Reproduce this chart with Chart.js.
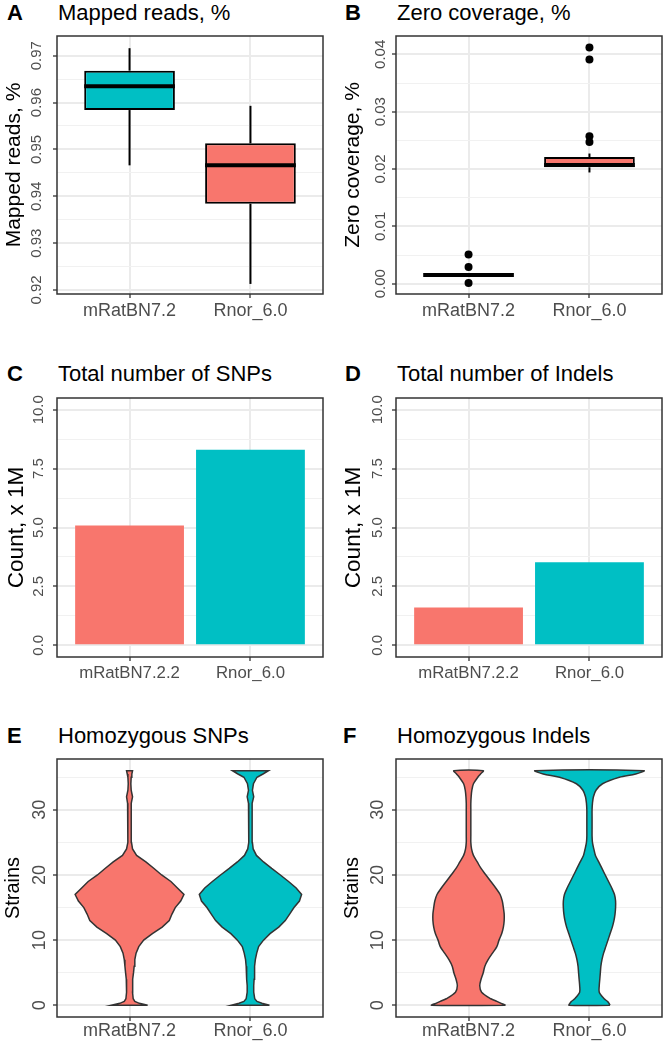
<!DOCTYPE html>
<html>
<head>
<meta charset="utf-8">
<script src="https://cdn.jsdelivr.net/npm/chart.js@4/dist/chart.umd.min.js"></script>
<style>
  body { margin: 0; background: #fff; width: 667px; height: 1050px; position: relative; overflow: hidden;
         font-family: 'Liberation Sans', Arial, sans-serif; }
  canvas { position: absolute; }
  .tag { position: absolute; font-size: 22px; line-height: 22px; font-weight: bold; color: #000; }
  .ttl { position: absolute; font-size: 22px; line-height: 22px; color: #000; white-space: nowrap; }
</style>
</head>
<body>
<div class="tag" style="left:7px;top:2px">A</div>
<div class="ttl" style="left:58px;top:2px">Mapped reads, %</div>
<div class="tag" style="left:345px;top:2px">B</div>
<div class="ttl" style="left:397px;top:2px">Zero coverage, %</div>
<div class="tag" style="left:7px;top:363px">C</div>
<div class="ttl" style="left:58px;top:363px">Total number of SNPs</div>
<div class="tag" style="left:345px;top:363px">D</div>
<div class="ttl" style="left:397px;top:363px">Total number of Indels</div>
<div class="tag" style="left:7px;top:725px">E</div>
<div class="ttl" style="left:58px;top:725px">Homozygous SNPs</div>
<div class="tag" style="left:343px;top:725px">F</div>
<div class="ttl" style="left:397px;top:725px">Homozygous Indels</div>

<canvas id="cA" width="333" height="300" style="left:0;top:30px"></canvas>
<canvas id="cB" width="334" height="300" style="left:333px;top:30px"></canvas>
<canvas id="cC" width="333" height="301" style="left:0;top:392px"></canvas>
<canvas id="cD" width="334" height="301" style="left:333px;top:392px"></canvas>
<canvas id="cE" width="333" height="297" style="left:0;top:753px"></canvas>
<canvas id="cF" width="334" height="297" style="left:333px;top:753px"></canvas>

<script>
// groups
const boxGroups = ['mRatBN7.2', 'Rnor_6.0'];
const barGroups = ['mRatBN7.2.2', 'Rnor_6.0'];

// A: mapped reads, [lower whisker, Q1, median, Q3, upper whisker]
const mappedMRat = [0.9466, 0.9584, 0.9635, 0.9668, 0.9716];
const mappedRnor = [0.9213, 0.9384, 0.9466, 0.9513, 0.9593];

// B: zero coverage, same layout + outliers
const zeroMRat = [0.0015, 0.0015, 0.0015, 0.0015, 0.0015];
const zeroRnor = [0.0194, 0.0203, 0.0207, 0.0221, 0.0227];
const zeroOutMRat = [0.0051, 0.0029, 0.0001];
const zeroOutRnor = [0.0412, 0.0391, 0.0257, 0.0247];

// C, D: totals, millions
const snpTotals = [5.09, 8.30];
const indelTotals = [1.60, 3.52];

// E, F: violin densities (relative width) at each strain count
const strainLevels = [0, 0.3, 0.6, 1, 2, 3, 4, 5, 6, 7, 8, 9, 10, 11, 12, 13, 14, 15, 16, 17, 18, 19,
  20, 21, 22, 23, 24, 25, 26, 27, 28, 29, 30, 31, 32, 33, 34, 35, 35.5, 36];
const homSnpMRat = [.333, .18, .097, .067, .055, .055, .06, .073, .085, .097, .12, .17, .26, .42, .6, .73,
  .78, .84, .94, 1.0, .88, .76, .59, .45, .3, .13, .055, .036, .03, .03, .03, .03, .03, .036, .055, .03,
  .024, .03, .042, .055];
const homSnpRnor = [.35, .21, .12, .079, .06, .06, .067, .073, .079, .09, .115, .15, .24, .36, .52, .64,
  .72, .8, .9, .94, .84, .7, .55, .39, .24, .11, .05, .036, .03, .03, .03, .03, .03, .036, .06, .036,
  .055, .12, .23, .33];
const homIndelMRat = [.68, .6, .52, .41, .24, .206, .23, .27, .3, .36, .44, .52, .56, .61, .64, .655,
  .655, .64, .62, .58, .5, .41, .32, .23, .16, .09, .055, .042, .042, .042, .042, .042, .042, .042, .048,
  .06, .09, .17, .22, .27];
const homIndelRnor = [.376, .36, .33, .27, .18, .18, .19, .2, .21, .23, .26, .3, .34, .38, .42, .45,
  .47, .48, .48, .46, .41, .35, .29, .23, .17, .11, .08, .055, .048, .048, .048, .048, .048, .055, .073,
  .12, .24, .55, .85, 1.0];

// tick values and labels
const mappedTicks = [0.92, 0.93, 0.94, 0.95, 0.96, 0.97];
const mappedLabels = ['0.92', '0.93', '0.94', '0.95', '0.96', '0.97'];
const mappedMinor = [0.925, 0.935, 0.945, 0.955, 0.965];
const zeroTicks = [0, 0.01, 0.02, 0.03, 0.04];
const zeroLabels = ['0.00', '0.01', '0.02', '0.03', '0.04'];
const zeroMinor = [0.005, 0.015, 0.025, 0.035];
const countTicks = [0, 2.5, 5, 7.5, 10];
const countLabels = ['0.0', '2.5', '5.0', '7.5', '10.0'];
const countMinor = [1.25, 3.75, 6.25, 8.75];
const strainTicks = [0, 10, 20, 30];
const strainLabels = ['0', '10', '20', '30'];
const strainMinor = [5, 15, 25, 35];

const INK = '#000000';
const SALMON = '#F8766D';
const TEAL = '#00BFC4';
const HALF_BOX = 0.375;
const HALF_VIOLIN = 0.45;

Chart.defaults.font.family = "'Liberation Sans', Arial, sans-serif";
Chart.defaults.animation = false;
Chart.defaults.plugins.legend.display = false;
Chart.defaults.plugins.tooltip.enabled = false;

// panel border drawn over the data, like theme_bw
const frame = {
  id: 'frame',
  afterDatasetsDraw(chart) {
    const { ctx, chartArea: a } = chart;
    ctx.save();
    ctx.strokeStyle = '#333333';
    ctx.lineWidth = 1.5;
    ctx.strokeRect(a.left, a.top, a.right - a.left, a.bottom - a.top);
    ctx.restore();
  }
};

const near = (list, v) => list.findIndex(m => Math.abs(m - v) < 1e-9);

function yAxis(c) {
  const major = ctx => ctx.tick && near(c.majors, ctx.tick.value) >= 0;
  return {
    type: 'linear', min: c.min, max: c.max, beginAtZero: false,
    afterBuildTicks: s => { s.ticks = c.majors.concat(c.minors).sort((p, q) => p - q).map(v => ({ value: v })); },
    afterFit: s => { s.width = c.width; s.paddingTop = 0; s.paddingBottom = 0; s.paddingLeft = 0; s.paddingRight = 0; },
    border: { display: false },
    grid: {
      color: ctx => major(ctx) ? '#EBEBEB' : '#F1F1F1',
      lineWidth: ctx => major(ctx) ? 2 : 1,
      tickColor: ctx => major(ctx) ? '#333333' : 'rgba(0,0,0,0)',
      tickLength: 4, tickWidth: 1.3
    },
    ticks: {
      autoSkip: false, minRotation: 90, maxRotation: 90, crossAlign: 'center', padding: c.tickPad,
      color: '#4D4D4D', font: { size: c.tickSize },
      callback: v => { const i = near(c.majors, v); return i >= 0 ? c.labels[i] : ''; }
    },
    title: { display: true, text: c.title, color: '#000', font: { size: c.titleSize }, padding: { top: c.titlePad, bottom: 0 } }
  };
}

function xAxis(names, size, pad, height) {
  return {
    type: 'linear', min: 0.4, max: 2.6, offset: false,
    afterBuildTicks: s => { s.ticks = names.map((n, i) => ({ value: i + 1 })); },
    afterFit: s => { s.height = height; s.paddingLeft = 0; s.paddingRight = 0; s.paddingTop = 0; s.paddingBottom = 0; },
    border: { display: false },
    grid: { offset: false, color: '#EBEBEB', lineWidth: 2, tickColor: '#333333', tickLength: 4, tickWidth: 1.3 },
    ticks: { autoSkip: false, maxRotation: 0, minRotation: 0, padding: pad, color: '#4D4D4D', font: { size: size },
      callback: v => names[Math.round(v) - 1] }
  };
}

function lineSet(points, width, order) {
  return { type: 'line', data: points, borderColor: INK, borderWidth: width, pointRadius: 0,
           fill: false, tension: 0, order: order };
}

function boxSets(stats, colors, outliers) {
  const sets = [{
    type: 'bar', order: 3,
    data: stats.map((s, i) => ({ x: i + 1, y: [s[1], s[3]] })),
    backgroundColor: colors, borderColor: INK, borderWidth: 2, borderSkipped: false,
    categoryPercentage: 0.75, barPercentage: 1
  }];
  stats.forEach((s, i) => {
    const c = i + 1;
    sets.push(lineSet([{ x: c, y: s[0] }, { x: c, y: s[1] }], 2, 2));
    sets.push(lineSet([{ x: c, y: s[3] }, { x: c, y: s[4] }], 2, 2));
    sets.push(lineSet([{ x: c - HALF_BOX, y: s[2] }, { x: c + HALF_BOX, y: s[2] }], 4, 1));
  });
  if (outliers) {
    sets.push({
      type: 'scatter', order: 0, showLine: false,
      data: outliers.flatMap((list, i) => list.map(v => ({ x: i + 1, y: v }))),
      pointRadius: 4, pointBackgroundColor: INK, pointBorderWidth: 0
    });
  }
  return sets;
}

function violinSet(center, levels, dens, color, tension) {
  const right = levels.map((v, i) => ({ x: center + dens[i] * HALF_VIOLIN, y: v }));
  const left = levels.map((v, i) => ({ x: center - dens[i] * HALF_VIOLIN, y: v })).reverse();
  return {
    data: right.concat(left, [right[0]]), showLine: true, fill: 'shape',
    backgroundColor: color, borderColor: '#333333', borderWidth: 1.5, pointRadius: 0, tension: tension
  };
}

function draw(id, type, datasets, x, y, pad) {
  return new Chart(document.getElementById(id), {
    type: type,
    data: { datasets: datasets },
    options: { responsive: false, layout: { padding: pad }, scales: { x: x, y: y } },
    plugins: [frame]
  });
}

// A
draw('cA', 'bar', boxSets([mappedMRat, mappedRnor], [TEAL, SALMON]),
  xAxis(boxGroups, 18, 2, 36),
  yAxis({ min: 0.91915, max: 0.9742, majors: mappedTicks, labels: mappedLabels, minors: mappedMinor,
          title: 'Mapped reads, %', titleSize: 21, titlePad: 2, tickSize: 15, tickPad: 1.2, width: 57 }),
  { left: 0, top: 6, right: 10, bottom: 0 });

// B
draw('cB', 'bar', boxSets([zeroMRat, zeroRnor], [TEAL, SALMON], [zeroOutMRat, zeroOutRnor]),
  xAxis(boxGroups, 18, 2, 36),
  yAxis({ min: -0.0018, max: 0.0432, majors: zeroTicks, labels: zeroLabels, minors: zeroMinor,
          title: 'Zero coverage, %', titleSize: 21, titlePad: 7.4, tickSize: 15, tickPad: -3.4, width: 63 }),
  { left: 0, top: 6, right: 5, bottom: 0 });

// C, D
function barSet(values) {
  return [{
    data: values.map((v, i) => ({ x: i + 1, y: v })),
    backgroundColor: [SALMON, TEAL], borderWidth: 0,
    categoryPercentage: 0.9, barPercentage: 1
  }];
}
draw('cC', 'bar', barSet(snpTotals),
  xAxis(barGroups, 16.8, 2.5, 36),
  yAxis({ min: -0.5, max: 10.5, majors: countTicks, labels: countLabels, minors: countMinor,
          title: 'Count, x 1M', titleSize: 22.5, titlePad: 3.5, tickSize: 15, tickPad: -0.6, width: 57 }),
  { left: 0, top: 6, right: 10, bottom: 0 });
draw('cD', 'bar', barSet(indelTotals),
  xAxis(barGroups, 16.8, 2.5, 36),
  yAxis({ min: -0.5, max: 10.5, majors: countTicks, labels: countLabels, minors: countMinor,
          title: 'Count, x 1M', titleSize: 22.5, titlePad: 7.5, tickSize: 15, tickPad: -0.9, width: 63 }),
  { left: 0, top: 6, right: 5, bottom: 0 });

// E, F
draw('cE', 'scatter',
  [violinSet(1, strainLevels, homSnpMRat, SALMON, 0), violinSet(2, strainLevels, homSnpRnor, TEAL, 0)],
  xAxis(boxGroups, 18, -1, 33),
  yAxis({ min: -1.8, max: 37.8, majors: strainTicks, labels: strainLabels, minors: strainMinor,
          title: 'Strains', titleSize: 20, titlePad: 1.8, tickSize: 18, tickPad: 3, width: 57 }),
  { left: 0, top: 6, right: 10, bottom: 0 });
draw('cF', 'scatter',
  [violinSet(1, strainLevels, homIndelMRat, SALMON, 0.3), violinSet(2, strainLevels, homIndelRnor, TEAL, 0.3)],
  xAxis(boxGroups, 18, -1, 33),
  yAxis({ min: -1.8, max: 37.8, majors: strainTicks, labels: strainLabels, minors: strainMinor,
          title: 'Strains', titleSize: 20, titlePad: 7.4, tickSize: 18, tickPad: 3.7, width: 63 }),
  { left: 0, top: 6, right: 5, bottom: 0 });
</script>
</body>
</html>
